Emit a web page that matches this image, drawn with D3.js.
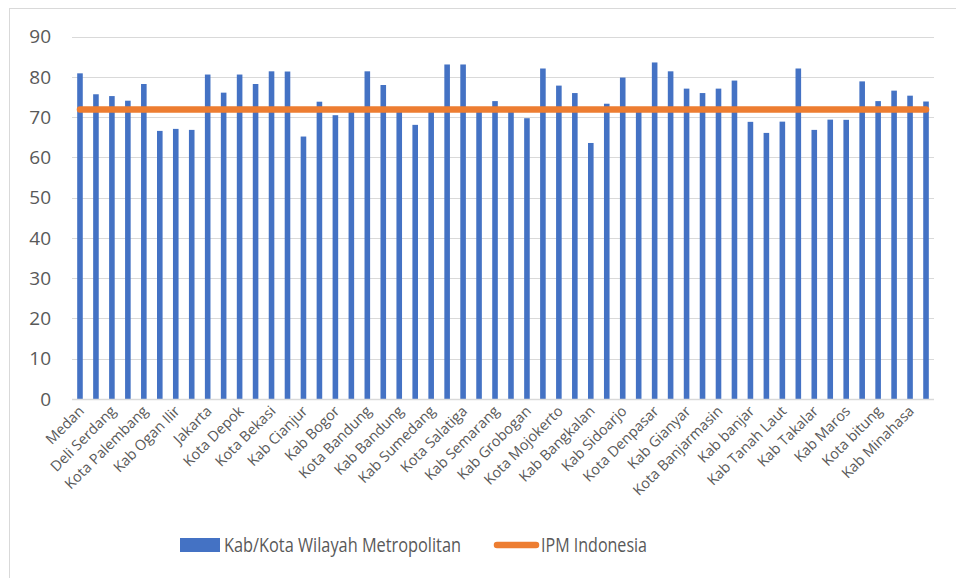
<!DOCTYPE html>
<html>
  <head>
    <meta charset="utf-8">
    <script src="https://d3js.org/d3.v7.min.js"></script>
    <style>
      body { margin: 0; background: #fff; }
      svg text { font-family: "Open Sans", "Liberation Sans", sans-serif; fill: #595959; }
    </style>
  </head>
<body>
  <script type="text/javascript">

    // daerah (kategori sumbu x)
    var daerah = ["Medan", "Kota Binjai", "Deli Serdang", "Kab Karo", "Kota Palembang",
      "Kab Banyuasin", "Kab Ogan Ilir", "Kab Muara Enim", "Jakarta", "Kota Bogor",
      "Kota Depok", "Kota Tangerang", "Kota Bekasi", "Kota Tangerang Selatan", "Kab Cianjur",
      "Kab Tangerang", "Kab Bogor", "Kab Bekasi", "Kota Bandung", "Kota Cimahi",
      "Kab Bandung", "Kab Bandung Barat", "Kab Sumedang", "Kota Semarang", "Kota Salatiga",
      "Kab Kendal", "Kab Semarang", "Kab Demak", "Kab Grobogan", "Kota Surabaya",
      "Kota Mojokerto", "Kab Gresik", "Kab Bangkalan", "Kab Mojokerto", "Kab Sidoarjo",
      "Kab Lamongan", "Kota Denpasar", "Kab Badung", "Kab Gianyar", "Kab Tabanan",
      "Kota Banjarmasin", "Kota Banjarbaru", "Kab banjar", "Kab Barito Kuala", "Kab Tanah Laut",
      "Kota Makassar", "Kab Takalar", "Kab Gowa", "Kab Maros", "Kota Manado",
      "Kota bitung", "Kota Tomohon", "Kab Minahasa", "Kab Minahasa Utara"];

    // IPM tiap kab/kota
    var ipmMetro = [80.9, 75.7, 75.25, 74.1, 78.25, 66.6, 67.1, 66.85, 80.6, 76.1,
      80.6, 78.25, 81.4, 81.35, 65.2, 73.85, 70.5, 71.4, 81.4, 78.0,
      71.8, 68.1, 71.5, 83.1, 83.1, 71.3, 74.0, 71.6, 69.75, 82.1,
      77.85, 76.0, 63.6, 73.35, 79.85, 71.7, 83.6, 81.4, 77.1, 76.0,
      77.1, 79.1, 68.85, 66.1, 68.9, 82.1, 66.85, 69.4, 69.35, 78.9,
      74.0, 76.6, 75.35, 73.9];

    // IPM nasional
    var ipmIndonesia = 71.92;

    var yTicks = [0, 10, 20, 30, 40, 50, 60, 70, 80, 90];

    var seriesNames = ["Kab/Kota Wilayah Metropolitan", "IPM Indonesia"];

    var W = 956, H = 578;
    var svg = d3.select("body").append("svg")
      .attr("width", W).attr("height", H);

    // bingkai grafik
    svg.append("rect")
      .attr("x", 9.5).attr("y", 8.5)
      .attr("width", W + 20).attr("height", H + 20)
      .attr("fill", "none").attr("stroke", "#d9d9d9");

    var x = d3.scaleBand()
      .domain(daerah)
      .range([72, 934])
      .paddingInner(0.65)
      .paddingOuter(0.325);

    var y = d3.scaleLinear().domain([0, 90]).range([399, 36.7]);

    // garis grid
    svg.append("g").selectAll("line")
      .data(yTicks.filter(function(d) { return d > 0; }))
      .enter().append("line")
        .attr("x1", 72).attr("x2", 934)
        .attr("y1", function(d) { return Math.round(y(d)) + 0.5; })
        .attr("y2", function(d) { return Math.round(y(d)) + 0.5; })
        .attr("stroke", "#d9d9d9").attr("stroke-width", 1);

    // label sumbu y
    svg.append("g").selectAll("text")
      .data(yTicks)
      .enter().append("text")
        .attr("x", 51)
        .attr("y", function(d) { return y(d); })
        .attr("dy", "0.35em")
        .attr("text-anchor", "end")
        .style("font-size", "19px")
        .text(function(d) { return d; });

    // batang
    svg.append("g").selectAll("rect")
      .data(ipmMetro)
      .enter().append("rect")
        .attr("x", function(d, i) { return x(daerah[i]); })
        .attr("y", function(d) { return y(d); })
        .attr("width", x.bandwidth())
        .attr("height", function(d) { return y(0) - y(d); })
        .attr("fill", "#4472c4");

    // sumbu x
    svg.append("line")
      .attr("x1", 72).attr("x2", 934)
      .attr("y1", 399.5).attr("y2", 399.5)
      .attr("stroke", "#d9d9d9").attr("stroke-width", 1.5);

    // label sumbu x (setiap dua kategori)
    svg.append("g").selectAll("text")
      .data(daerah.filter(function(d, i) { return i % 2 == 0; }))
      .enter().append("text")
        .attr("transform", function(d) {
          var cx = x(d) + x.bandwidth() / 2 + 5;
          return "translate(" + cx + ",412) rotate(-45)";
        })
        .attr("text-anchor", "end")
        .style("font-size", "14.5px")
        .text(function(d) { return d; });

    // garis IPM Indonesia
    var cx0 = x(daerah[0]) + x.bandwidth() / 2;
    var cx1 = x(daerah[daerah.length - 1]) + x.bandwidth() / 2;
    svg.append("line")
      .attr("x1", cx0).attr("x2", cx1)
      .attr("y1", y(ipmIndonesia)).attr("y2", y(ipmIndonesia))
      .attr("stroke", "#ed7d31").attr("stroke-width", 6.5)
      .attr("stroke-linecap", "round");

    // legenda
    var lg = svg.append("g");
    lg.append("rect")
      .attr("x", 180).attr("y", 538).attr("width", 40).attr("height", 14)
      .attr("fill", "#4472c4");
    lg.append("text")
      .attr("x", 224).attr("y", 545).attr("dy", "0.35em")
      .attr("textLength", 237).attr("lengthAdjust", "spacingAndGlyphs")
      .style("font-size", "20px")
      .text(seriesNames[0]);
    lg.append("line")
      .attr("x1", 497).attr("x2", 536).attr("y1", 545).attr("y2", 545)
      .attr("stroke", "#ed7d31").attr("stroke-width", 6.5)
      .attr("stroke-linecap", "round");
    lg.append("text")
      .attr("x", 541).attr("y", 545).attr("dy", "0.35em")
      .attr("textLength", 106).attr("lengthAdjust", "spacingAndGlyphs")
      .style("font-size", "20px")
      .text(seriesNames[1]);

  </script>
</body>
</html>
